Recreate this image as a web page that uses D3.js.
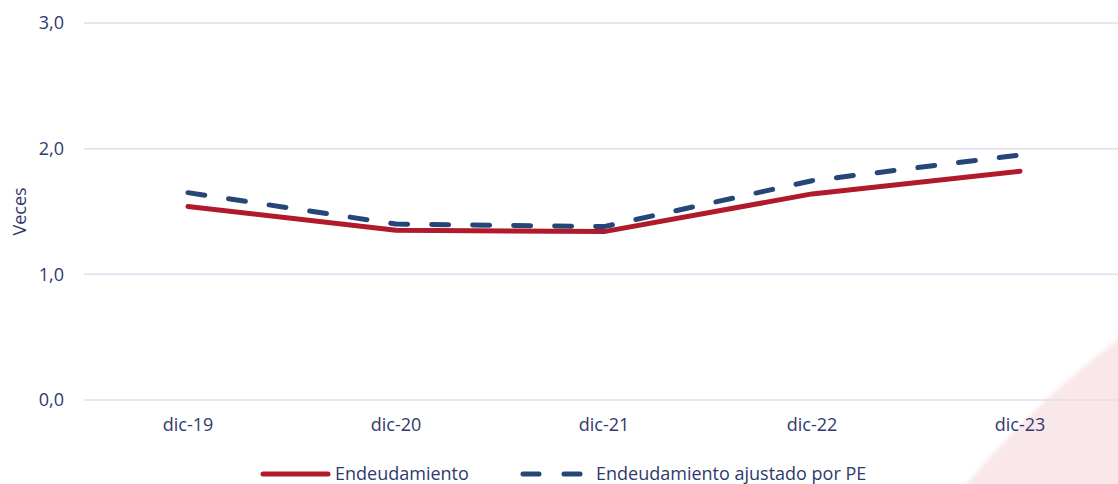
<!DOCTYPE html>
<html>
<head>
<meta charset="utf-8">
<script src="https://cdn.jsdelivr.net/npm/d3@7"></script>
<style>
  html, body { margin: 0; padding: 0; background: #fff; }
  svg { display: block; font-family: "Open Sans", "Noto Sans", sans-serif; }
</style>
</head>
<body>
<svg id="chart" width="1118" height="484"></svg>
<script>
// Periods and series (veces)
const categories = ["dic-19", "dic-20", "dic-21", "dic-22", "dic-23"];
const endeudamiento = [1.54, 1.35, 1.34, 1.64, 1.82];
const endeudamientoAjustado = [1.65, 1.40, 1.38, 1.745, 1.95];
const yTicks = [0, 1, 2, 3];
const seriesNames = ["Endeudamiento", "Endeudamiento ajustado por PE"];

const W = 1118, H = 484;
const margin = { left: 84, right: -6, top: 23, bottom: 84 };
const textColor = "#2f3a6b";
const red = "#b01a2a";
const navy = "#254677";
const fontSize = 18;

const svg = d3.select("#chart");

// soft decorative disc in the lower-right corner
const defs = svg.append("defs");
defs.append("filter").attr("id", "soft")
  .attr("x", "-10%").attr("y", "-10%").attr("width", "120%").attr("height", "120%")
  .append("feGaussianBlur").attr("stdDeviation", 2);
svg.append("circle")
  .attr("cx", 1681).attr("cy", 1081).attr("r", 931)
  .attr("fill", "#f9e7e9")
  .attr("filter", "url(#soft)");

const x = d3.scaleBand()
  .domain(categories)
  .range([margin.left, W - margin.right]);

const y = d3.scaleLinear()
  .domain([0, 3])
  .range([H - margin.bottom, margin.top]);

// horizontal gridlines
svg.append("g")
  .selectAll("line")
  .data(yTicks)
  .join("line")
  .attr("x1", margin.left).attr("x2", W)
  .attr("y1", d => y(d)).attr("y2", d => y(d))
  .attr("stroke", "#dde0ee").attr("stroke-width", 1.5);

// y axis labels
const fmt = d => d3.format(".1f")(d).replace(".", ",");
const yAxis = svg.append("g")
  .attr("transform", `translate(${margin.left - 20},0)`)
  .call(d3.axisLeft(y).tickValues(yTicks).tickFormat(fmt).tickSize(0).tickPadding(0));
yAxis.select(".domain").remove();
yAxis.selectAll("text")
  .attr("fill", textColor).attr("font-size", fontSize)
  .attr("font-family", "'Open Sans', sans-serif");

// x axis labels
const xAxis = svg.append("g")
  .attr("transform", `translate(0,${y(0) + 18})`)
  .call(d3.axisBottom(x).tickSize(0).tickPadding(0));
xAxis.select(".domain").remove();
xAxis.selectAll("text")
  .attr("fill", textColor).attr("font-size", fontSize)
  .attr("font-family", "'Open Sans', sans-serif");

// y axis title
svg.append("text")
  .attr("transform", `translate(20,${(y(0) + y(3)) / 2}) rotate(-90)`)
  .attr("text-anchor", "middle")
  .attr("dy", "0.35em")
  .attr("fill", textColor).attr("font-size", fontSize)
  .text("Veces");

const line = d3.line()
  .x((d, i) => x(categories[i]) + x.bandwidth() / 2)
  .y(d => y(d));

svg.append("path")
  .datum(endeudamiento)
  .attr("d", line)
  .attr("fill", "none")
  .attr("stroke", red).attr("stroke-width", 5)
  .attr("stroke-linecap", "round").attr("stroke-linejoin", "round");

svg.append("path")
  .datum(endeudamientoAjustado)
  .attr("d", line)
  .attr("fill", "none")
  .attr("stroke", navy).attr("stroke-width", 5)
  .attr("stroke-dasharray", "17 24")
  .attr("stroke-linecap", "round").attr("stroke-linejoin", "round");

// legend
const ly = 474;
const legend = svg.append("g");
legend.append("line")
  .attr("x1", 263).attr("x2", 328).attr("y1", ly).attr("y2", ly)
  .attr("stroke", red).attr("stroke-width", 5).attr("stroke-linecap", "round");
legend.append("text")
  .attr("x", 335).attr("y", ly).attr("dy", "0.35em")
  .attr("fill", textColor).attr("font-size", fontSize)
  .text(seriesNames[0]);
legend.append("line")
  .attr("x1", 523).attr("x2", 583).attr("y1", ly).attr("y2", ly)
  .attr("stroke", navy).attr("stroke-width", 5).attr("stroke-linecap", "round")
  .attr("stroke-dasharray", "16 25");
legend.append("text")
  .attr("x", 596).attr("y", ly).attr("dy", "0.35em")
  .attr("fill", textColor).attr("font-size", fontSize)
  .text(seriesNames[1]);
</script>
</body>
</html>
